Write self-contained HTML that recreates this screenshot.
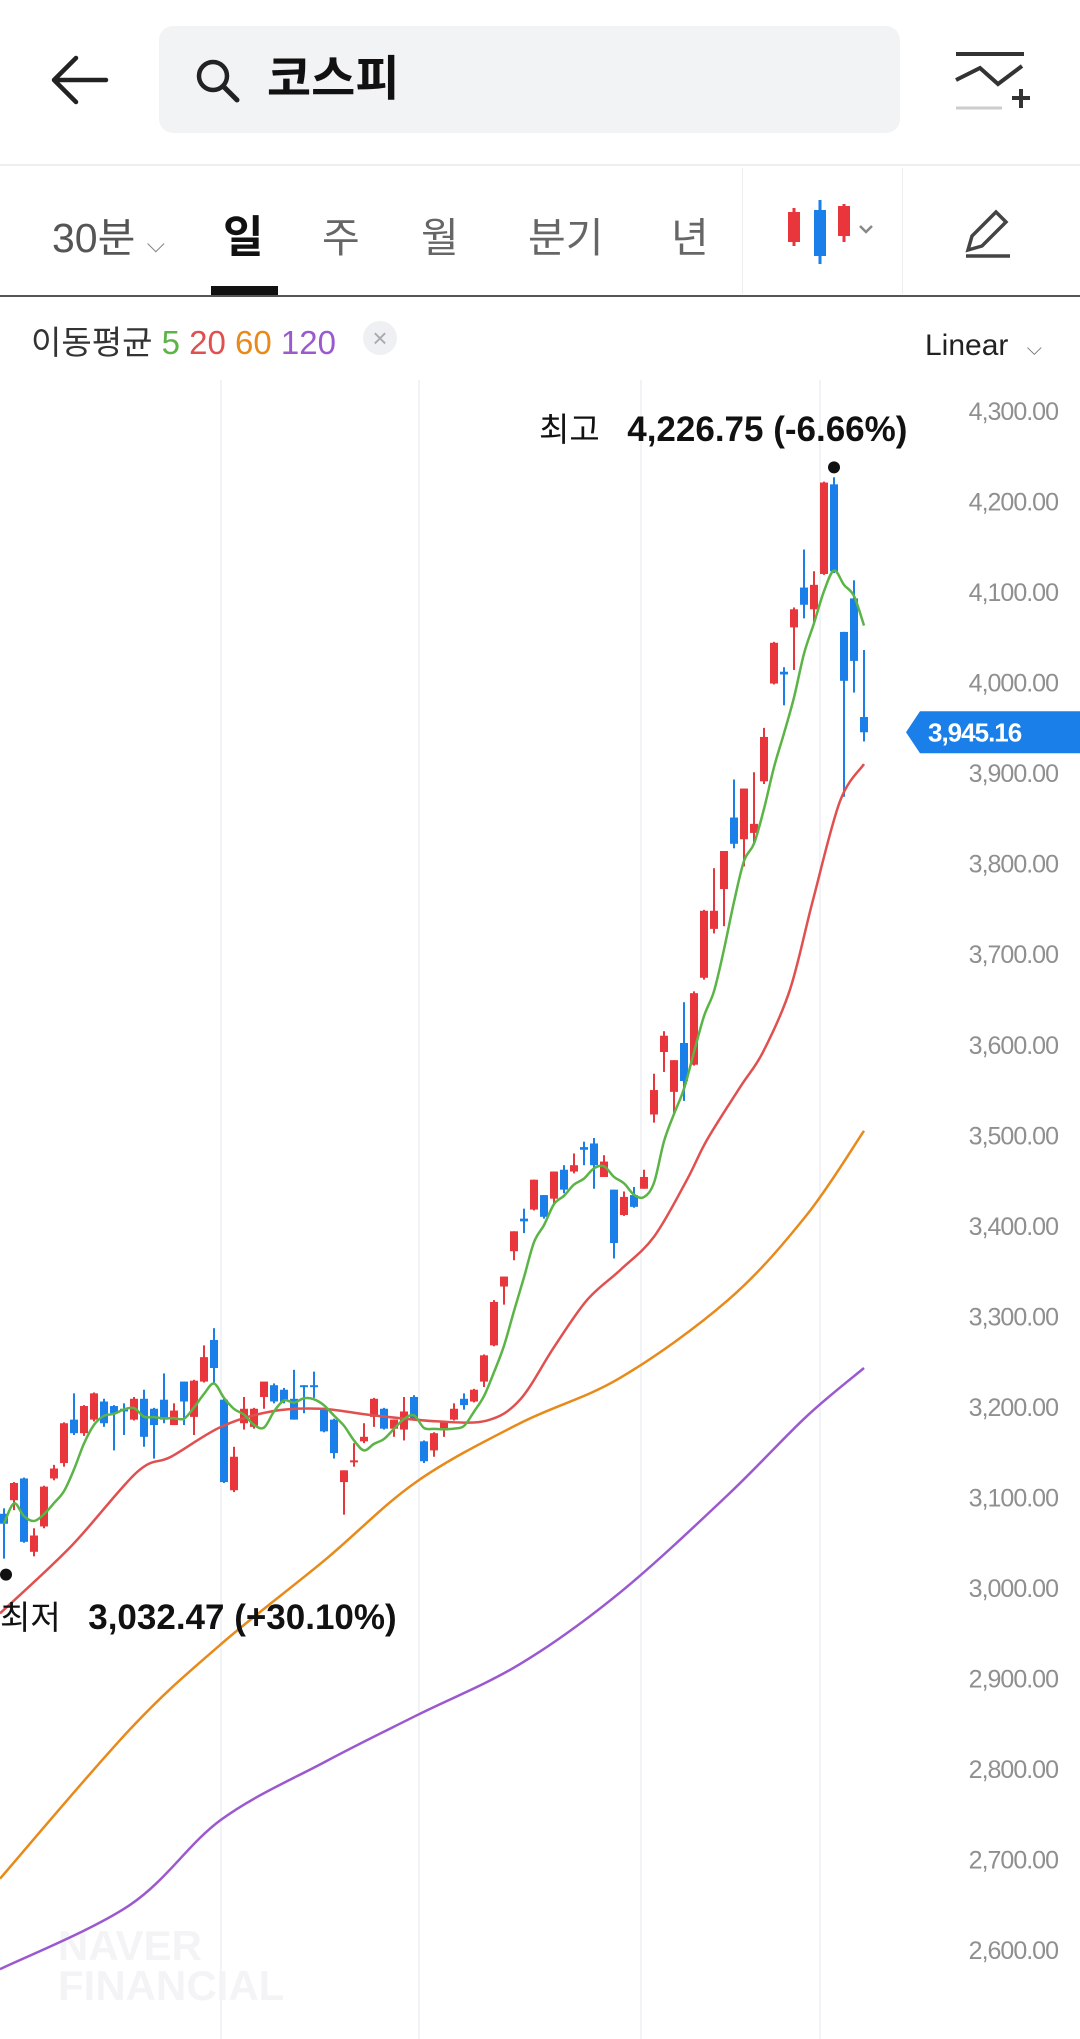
<!DOCTYPE html>
<html><head><meta charset="utf-8"><style>
body{margin:0;width:1080px;height:2039px;background:#fff;overflow:hidden;position:relative;font-family:"Liberation Sans","Noto Sans CJK KR",sans-serif;}
.abs{position:absolute;}
</style></head><body>
<div class="abs" style="left:48px;top:52px;width:64px;height:56px;">
<svg width="64" height="56"><path d="M6 28 H58 M6 28 L28 6 M6 28 L28 50" stroke="#222" stroke-width="4.5" fill="none" stroke-linecap="round"/></svg></div>
<div class="abs" style="left:159px;top:26px;width:741px;height:107px;background:#f2f3f5;border-radius:14px;">
<svg class="abs" style="left:34px;top:30px" width="50" height="50"><circle cx="20" cy="20" r="14" stroke="#222" stroke-width="4.5" fill="none"/><path d="M31 31 L44 44" stroke="#222" stroke-width="5" stroke-linecap="round"/></svg>
<div class="abs" style="left:108px;top:26px;font-size:48px;font-weight:bold;color:#111;line-height:56px;">코스피</div></div>
<svg class="abs" style="left:952px;top:50px" width="80" height="64"><path d="M4 4 H72 M4 30 L28 18 L46 34 L70 16" stroke="#333" stroke-width="4" fill="none"/><path d="M4 58 H50" stroke="#ccc" stroke-width="3"/><path d="M60 48 H78 M69 39 V58" stroke="#333" stroke-width="4"/></svg>
<div class="abs" style="left:0;top:164px;width:1080px;height:2px;background:#eee"></div>
<div class="abs" style="left:52px;top:204px;font-size:41px;color:#555;">30분 <span style="font-size:24px;color:#888">⌵</span></div>
<div class="abs" style="left:223px;top:201px;font-size:44px;font-weight:bold;color:#111;">일</div>
<div class="abs" style="left:211px;top:286px;width:67px;height:10px;background:#111"></div>
<div class="abs" style="left:322px;top:204px;font-size:41px;color:#666;">주</div>
<div class="abs" style="left:421px;top:204px;font-size:41px;color:#666;">월</div>
<div class="abs" style="left:528px;top:204px;font-size:41px;color:#666;">분기</div>
<div class="abs" style="left:671px;top:204px;font-size:41px;color:#666;">년</div>
<div class="abs" style="left:742px;top:168px;width:1px;height:126px;background:#eee"></div>
<svg class="abs" style="left:784px;top:196px" width="100" height="70"><path d="M10 12V50M60 8V46" stroke="#e8363c" stroke-width="3"/><path d="M36 4V68" stroke="#1a7fe8" stroke-width="3"/><rect x="4" y="16" width="12" height="30" fill="#e8363c"/><rect x="30" y="14" width="12" height="46" fill="#1a7fe8"/><rect x="54" y="10" width="12" height="30" fill="#e8363c"/><path d="M76 30 L82 36 L88 30" stroke="#888" stroke-width="2.5" fill="none"/></svg>
<div class="abs" style="left:902px;top:168px;width:1px;height:126px;background:#eee"></div>
<svg class="abs" style="left:960px;top:206px" width="56" height="52"><path d="M8 44 L12 30 L36 6 L46 16 L22 40 Z" stroke="#444" stroke-width="3.5" fill="none"/><path d="M6 50 H50" stroke="#444" stroke-width="3.5"/></svg>
<div class="abs" style="left:0;top:295px;width:1080px;height:2px;background:#555"></div>
<div class="abs" style="left:31px;top:316px;font-size:33px;color:#333;">이동평균 <span style="color:#5bb446">5</span> <span style="color:#e0504f">20</span> <span style="color:#e88a1a">60</span> <span style="color:#9b59d0">120</span></div>
<div class="abs" style="left:363px;top:321px;width:34px;height:34px;border-radius:17px;background:#eef0f3;color:#aaa;font-size:26px;text-align:center;line-height:34px;">×</div>
<div class="abs" style="left:925px;top:329px;font-size:30px;color:#222;">Linear <span style="font-size:20px;color:#777;margin-left:10px">⌵</span></div>
<div class="abs" style="left:58px;top:1926px;font-size:42px;font-weight:bold;color:#f4f4f6;line-height:40px;">NAVER<br>FINANCIAL</div>
<svg id="chart" class="abs" style="left:0;top:0" width="1080" height="2039"></svg>
<script>
const opens=[3082,3097,3121,3040,3068,3121,3138,3186,3171,3186,3206,3201,3198,3186,3209,3198,3208,3180,3228,3189,3228,3274,3208,3108,3182,3178,3211,3224,3219,3209,3224,3224,3198,3186,3117,3139,3162,3189,3198,3176,3175,3211,3162,3152,3174,3186,3209,3206,3228,3268,3333,3372,3408,3418,3434,3430,3462,3460,3487,3491,3454,3440,3412,3434,3441,3523,3592,3548,3602,3578,3674,3728,3772,3851,3827,3834,3891,3999,4012,4061,4105,4081,4120,4219,4056,4093,3962];
const highs=[3088,3117,3122,3066,3113,3136,3183,3215,3202,3216,3209,3202,3204,3211,3219,3199,3237,3204,3228,3230,3268,3287,3209,3156,3211,3199,3228,3226,3221,3241,3224,3239,3199,3187,3130,3160,3182,3210,3199,3186,3211,3213,3163,3172,3184,3204,3215,3220,3258,3318,3344,3394,3419,3451,3434,3460,3467,3480,3493,3497,3478,3440,3438,3443,3462,3568,3615,3583,3647,3659,3749,3795,3814,3893,3883,3901,3950,4045,4017,4083,4147,4123,4222,4226.75,4056,4113,4036];
const lows=[3032.47,3086,3050,3035,3066,3119,3134,3169,3168,3184,3178,3152,3169,3185,3156,3143,3182,3180,3180,3169,3227,3226,3116,3106,3175,3176,3198,3204,3204,3186,3193,3210,3172,3143,3081,3134,3160,3178,3175,3167,3163,3186,3138,3145,3167,3185,3197,3205,3222,3267,3313,3362,3392,3417,3408,3423,3436,3458,3467,3441,3454,3364,3411,3420,3441,3514,3570,3523,3538,3577,3672,3723,3731,3817,3797,3822,3888,3998,3975,4014,4071,4066,4119,4121,3874,3989,3935];
const closes=[3071,3116,3051,3058,3112,3132,3182,3171,3201,3215,3182,3193,3195,3209,3167,3180,3186,3196,3206,3229,3255,3243,3117,3145,3198,3198,3228,3206,3206,3186,3222,3222,3173,3149,3130,3141,3167,3209,3176,3186,3195,3187,3140,3171,3184,3198,3202,3219,3257,3316,3344,3394,3405,3451,3410,3460,3440,3467,3484,3467,3471,3381,3432,3421,3454,3550,3610,3583,3560,3657,3748,3748,3814,3822,3883,3844,3940,4044,4009,4081,4086,4108,4221,4123,4002,4024,3945.16];
const ma20Idx=[0.6,7.7,14.3,17.7,22.7,27.7,32.7,37.7,44.4,49.3,52.6,56,59.3,62.6,66,69.3,71.3,74.6,76.9,79.6,81.9,84.6,87];
const ma20Val=[2972,3046,3128,3145,3178,3195,3198,3191,3184,3185,3208,3266,3318,3351,3388,3451,3495,3553,3592,3661,3760,3869,3910];
const ma60Idx=[0.6,13.6,22.7,33.1,42.2,52.6,62.6,73.4,81.2,87];
const ma60Val=[2679,2844,2938,3031,3117,3182,3232,3318,3411,3505];
const ma120Idx=[0.6,13.6,22.7,33.1,42.2,52.6,62.6,73.4,81.2,87];
const ma120Val=[2579,2650,2744,2808,2859,2916,2995,3103,3189,3243];
const yTicks=[4300,4200,4100,4000,3900,3800,3700,3600,3500,3400,3300,3200,3100,3000,2900,2800,2700,2600];
const lastPrice=3945.16;

const svg=document.getElementById('chart');
const NS='http://www.w3.org/2000/svg';
const y=p=>411+(4300-p)*0.9054;
const x=i=>4+i*10;
function mk(t,a){const e=document.createElementNS(NS,t);for(const k in a)e.setAttribute(k,a[k]);svg.appendChild(e);return e;}
[221,419,641,820].forEach(gx=>{const g=mk('line',{x1:gx,x2:gx,y1:380,y2:2039,stroke:'#f1f3f6','stroke-width':2});

});
yTicks.forEach(t=>{const e=mk('text',{x:1058,y:y(t)+9,'text-anchor':'end','font-size':25,fill:'#8f8f8f','letter-spacing':'-1','font-family':'Liberation Sans, sans-serif'});
e.textContent=t.toLocaleString('en-US',{minimumFractionDigits:2});

});
function line(idx,val,color,name){
// smooth curve through read points (Catmull-Rom)
const P=idx.map((v,k)=>[x(v-1),y(val[k])]);
let d='M'+P[0][0]+' '+P[0][1];
for(let k=0;k<P.length-1;k++){const p0=P[Math.max(0,k-1)],p1=P[k],p2=P[k+1],p3=P[Math.min(P.length-1,k+2)];
d+=` C${p1[0]+(p2[0]-p0[0])/6} ${p1[1]+(p2[1]-p0[1])/6} ${p2[0]-(p3[0]-p1[0])/6} ${p2[1]-(p3[1]-p1[1])/6} ${p2[0]} ${p2[1]}`;}
const e=mk('path',{d:d,fill:'none',stroke:color,'stroke-width':2.5,'stroke-linejoin':'round'});

}
line(ma120Idx,ma120Val,'#9b59d0','ma120-line');
line(ma60Idx,ma60Val,'#e88a1a','ma60-line');
closes.forEach((c,i)=>{const up=c>=opens[i];const col=up?'#e8363c':'#1a7fe8';
const w=mk('line',{x1:x(i),x2:x(i),y1:y(highs[i]),y2:y(lows[i]),stroke:col,'stroke-width':2});


const t=Math.max(c,opens[i]),b=Math.min(c,opens[i]);
const r=mk('rect',{x:x(i)-4,y:y(t),width:8,height:Math.max(2,y(b)-y(t)),fill:col});

});
line(ma20Idx,ma20Val,'#e0504f','ma20-line');
const m5i=[],m5v=[];closes.forEach((c,i)=>{const s=closes.slice(Math.max(0,i-4),i+1);m5i.push(i+1);m5v.push(s.reduce((a,b)=>a+b,0)/s.length);});
line(m5i,m5v,'#5bb446','ma5-line');
let hi=0;highs.forEach((h,i)=>{if(h>highs[hi])hi=i;});
let lo=0;lows.forEach((l,i)=>{if(l<lows[lo])lo=i;});
const d1=mk('circle',{cx:x(hi),cy:y(highs[hi])-10,r:6,fill:'#111'});


const d2=mk('circle',{cx:x(lo)+2,cy:y(lows[lo])+16,r:6,fill:'#111'});


const tg=mk('path',{d:`M906 ${y(lastPrice)} L920 ${y(lastPrice)-21} H1080 V${y(lastPrice)+21} H920 Z`,fill:'#1a7fe8'});


const tt=mk('text',{x:928,y:y(lastPrice)+9,'font-size':26,fill:'#fff','font-weight':'bold','letter-spacing':'-1','font-family':'Liberation Sans, sans-serif'});
tt.textContent=lastPrice.toLocaleString('en-US',{minimumFractionDigits:2});


</script>
<div class="abs" style="left:539px;top:403px;font-size:33px;color:#111;white-space:nowrap;">최고 &nbsp; <b style="font-size:35px">4,226.75 (-6.66%)</b></div>
<div class="abs" style="left:0px;top:1591px;font-size:33px;color:#111;white-space:nowrap;">최저 &nbsp; <b style="font-size:35px">3,032.47 (+30.10%)</b></div>
</body></html>
